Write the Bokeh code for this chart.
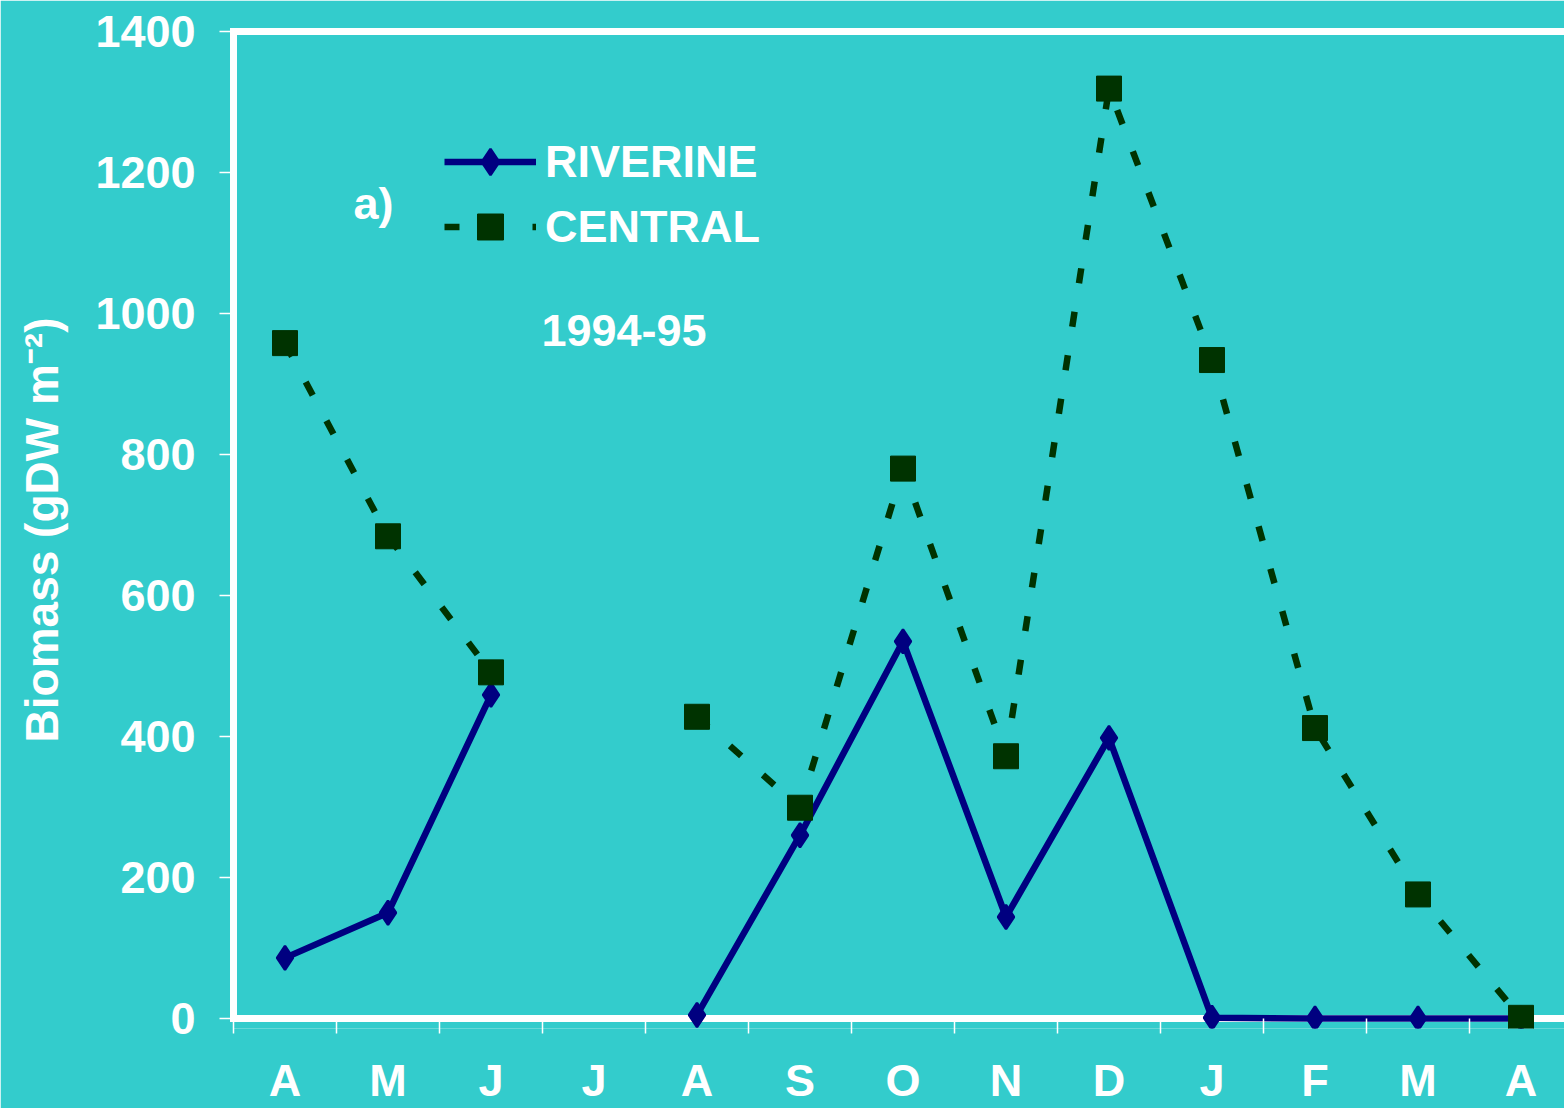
import numpy as np
from bokeh.plotting import figure
from bokeh.models import Range1d, FixedTicker, LinearAxis, Label, Legend, LegendItem, Span
from bokeh.embed import file_html
from bokeh.resources import INLINE

months = ["A", "M", "J", "J", "A", "S", "O", "N", "D", "J", "F", "M", "A"]
riverine = [86, 150, 459, np.nan, 5, 260, 535, 144, 398, 1, 0, 0, 0]
central = [958, 684, 491, np.nan, 428, 299, 780, 372, 1319, 934, 412, 176, 1]
y_ticks = [0, 200, 400, 600, 800, 1000, 1200, 1400]

BG = "#33CCCC"
NAVY = "#000080"
GREEN = "#003300"
FONT = "Liberation Sans"

# layout in page pixels
FL, FT, Y0 = 233, 31, 1020       # frame left, frame top (y=1400), y=0 line
PXX = 103                        # pixels per month
PXY = (Y0 - FT) / 1400           # pixels per unit of biomass
D = 10                           # frame extends this far below y = 0
FB = Y0 + D

def dx(px):
    return (px - FL) / PXX

def dy(py):
    return (Y0 - py) / PXY

x = np.arange(len(months)) + 0.5

p = figure(width=1564, height=1108, output_backend="svg", toolbar_location=None,
           x_range=Range1d(0, (1564 - FL) / PXX), y_range=Range1d(-D / PXY, 1400),
           x_axis_type=None, y_axis_type=None,
           min_border_left=FL, min_border_right=0, min_border_top=FT,
           min_border_bottom=1108 - FB,
           background_fill_color=BG, border_fill_color=BG, outline_line_color=None)
p.xgrid.visible = False
p.ygrid.visible = False

# bottom axis: month labels and boundary ticks (line drawn by the span at y=0)
xaxis = LinearAxis(ticker=FixedTicker(ticks=list(x), minor_ticks=list(range(len(months) + 1))),
                   major_label_overrides={float(v): m for v, m in zip(x, months)})
xaxis.axis_line_color = None
xaxis.major_tick_line_color = None
xaxis.major_tick_out = 0
xaxis.major_tick_in = 0
xaxis.minor_tick_line_color = "white"
xaxis.minor_tick_line_width = 1.5
xaxis.minor_tick_out = 5
xaxis.minor_tick_in = D
xaxis.major_label_standoff = 21
xaxis.major_label_text_font = FONT
xaxis.major_label_text_font_style = "bold"
xaxis.major_label_text_font_size = "45px"
xaxis.major_label_text_color = "white"
p.add_layout(xaxis, "below")

p.add_layout(Span(location=0, dimension="width", line_color="white", line_width=7,
                  level="underlay"))

# left axis
yaxis = LinearAxis(ticker=FixedTicker(ticks=y_ticks), bounds=(0, 1400),
                   axis_label="Biomass (gDW m\u207b\u00b2)")
yaxis.axis_line_color = "white"
yaxis.axis_line_width = 7
yaxis.axis_line_cap = "square"
yaxis.major_tick_line_color = "white"
yaxis.major_tick_line_width = 1.5
yaxis.major_tick_out = 14
yaxis.major_tick_in = 0
yaxis.minor_tick_line_color = None
yaxis.major_label_standoff = 24
yaxis.major_label_text_font = FONT
yaxis.major_label_text_font_style = "bold"
yaxis.major_label_text_font_size = "45px"
yaxis.major_label_text_color = "white"
yaxis.axis_label_standoff = 24
yaxis.axis_label_text_font = FONT
yaxis.axis_label_text_font_style = "bold"
yaxis.axis_label_text_font_size = "46px"
yaxis.axis_label_text_color = "white"
p.add_layout(yaxis, "left")

# top frame line
top = LinearAxis(ticker=FixedTicker(ticks=[]))
top.axis_line_color = "white"
top.axis_line_width = 7
top.axis_line_cap = "square"
top.major_tick_line_color = None
top.minor_tick_line_color = None
top.major_tick_out = 0
top.major_label_standoff = 0
top.major_label_text_font_size = "0px"
p.add_layout(top, "above")

# series
r2 = p.line(x, central, line_color=GREEN, line_width=6.5, line_dash="15 29")
r1 = p.line(x, riverine, line_color=NAVY, line_width=6.5)
s1 = p.scatter(x, riverine, marker="diamond", size=24, fill_color=NAVY,
               line_color=NAVY, line_width=2.5)
s2 = p.scatter(x, central, marker="square", size=25, fill_color=GREEN,
               line_color=GREEN, line_width=1)

legend = Legend(items=[LegendItem(label="RIVERINE", renderers=[r1, s1]),
                       LegendItem(label="CENTRAL", renderers=[r2, s2])],
                location=(444 - FL, FB - 261), orientation="vertical",
                glyph_width=92, glyph_height=65, label_height=65, label_standoff=9,
                spacing=0, padding=0, margin=0,
                border_line_color=None, background_fill_alpha=0,
                label_text_font=FONT, label_text_font_style="bold",
                label_text_font_size="45px", label_text_color="white")
p.add_layout(legend)

def txt(px, py, s, size=45):
    p.add_layout(Label(x=dx(px), y=dy(py), text=s, text_font=FONT, text_font_style="bold",
                       text_font_size=f"{size}px", text_color="white",
                       text_align="left", text_baseline="middle"))

txt(353, 203, "a)")
txt(541, 331, "1994-95")

open("out.html", "w").write(file_html(p, INLINE))
